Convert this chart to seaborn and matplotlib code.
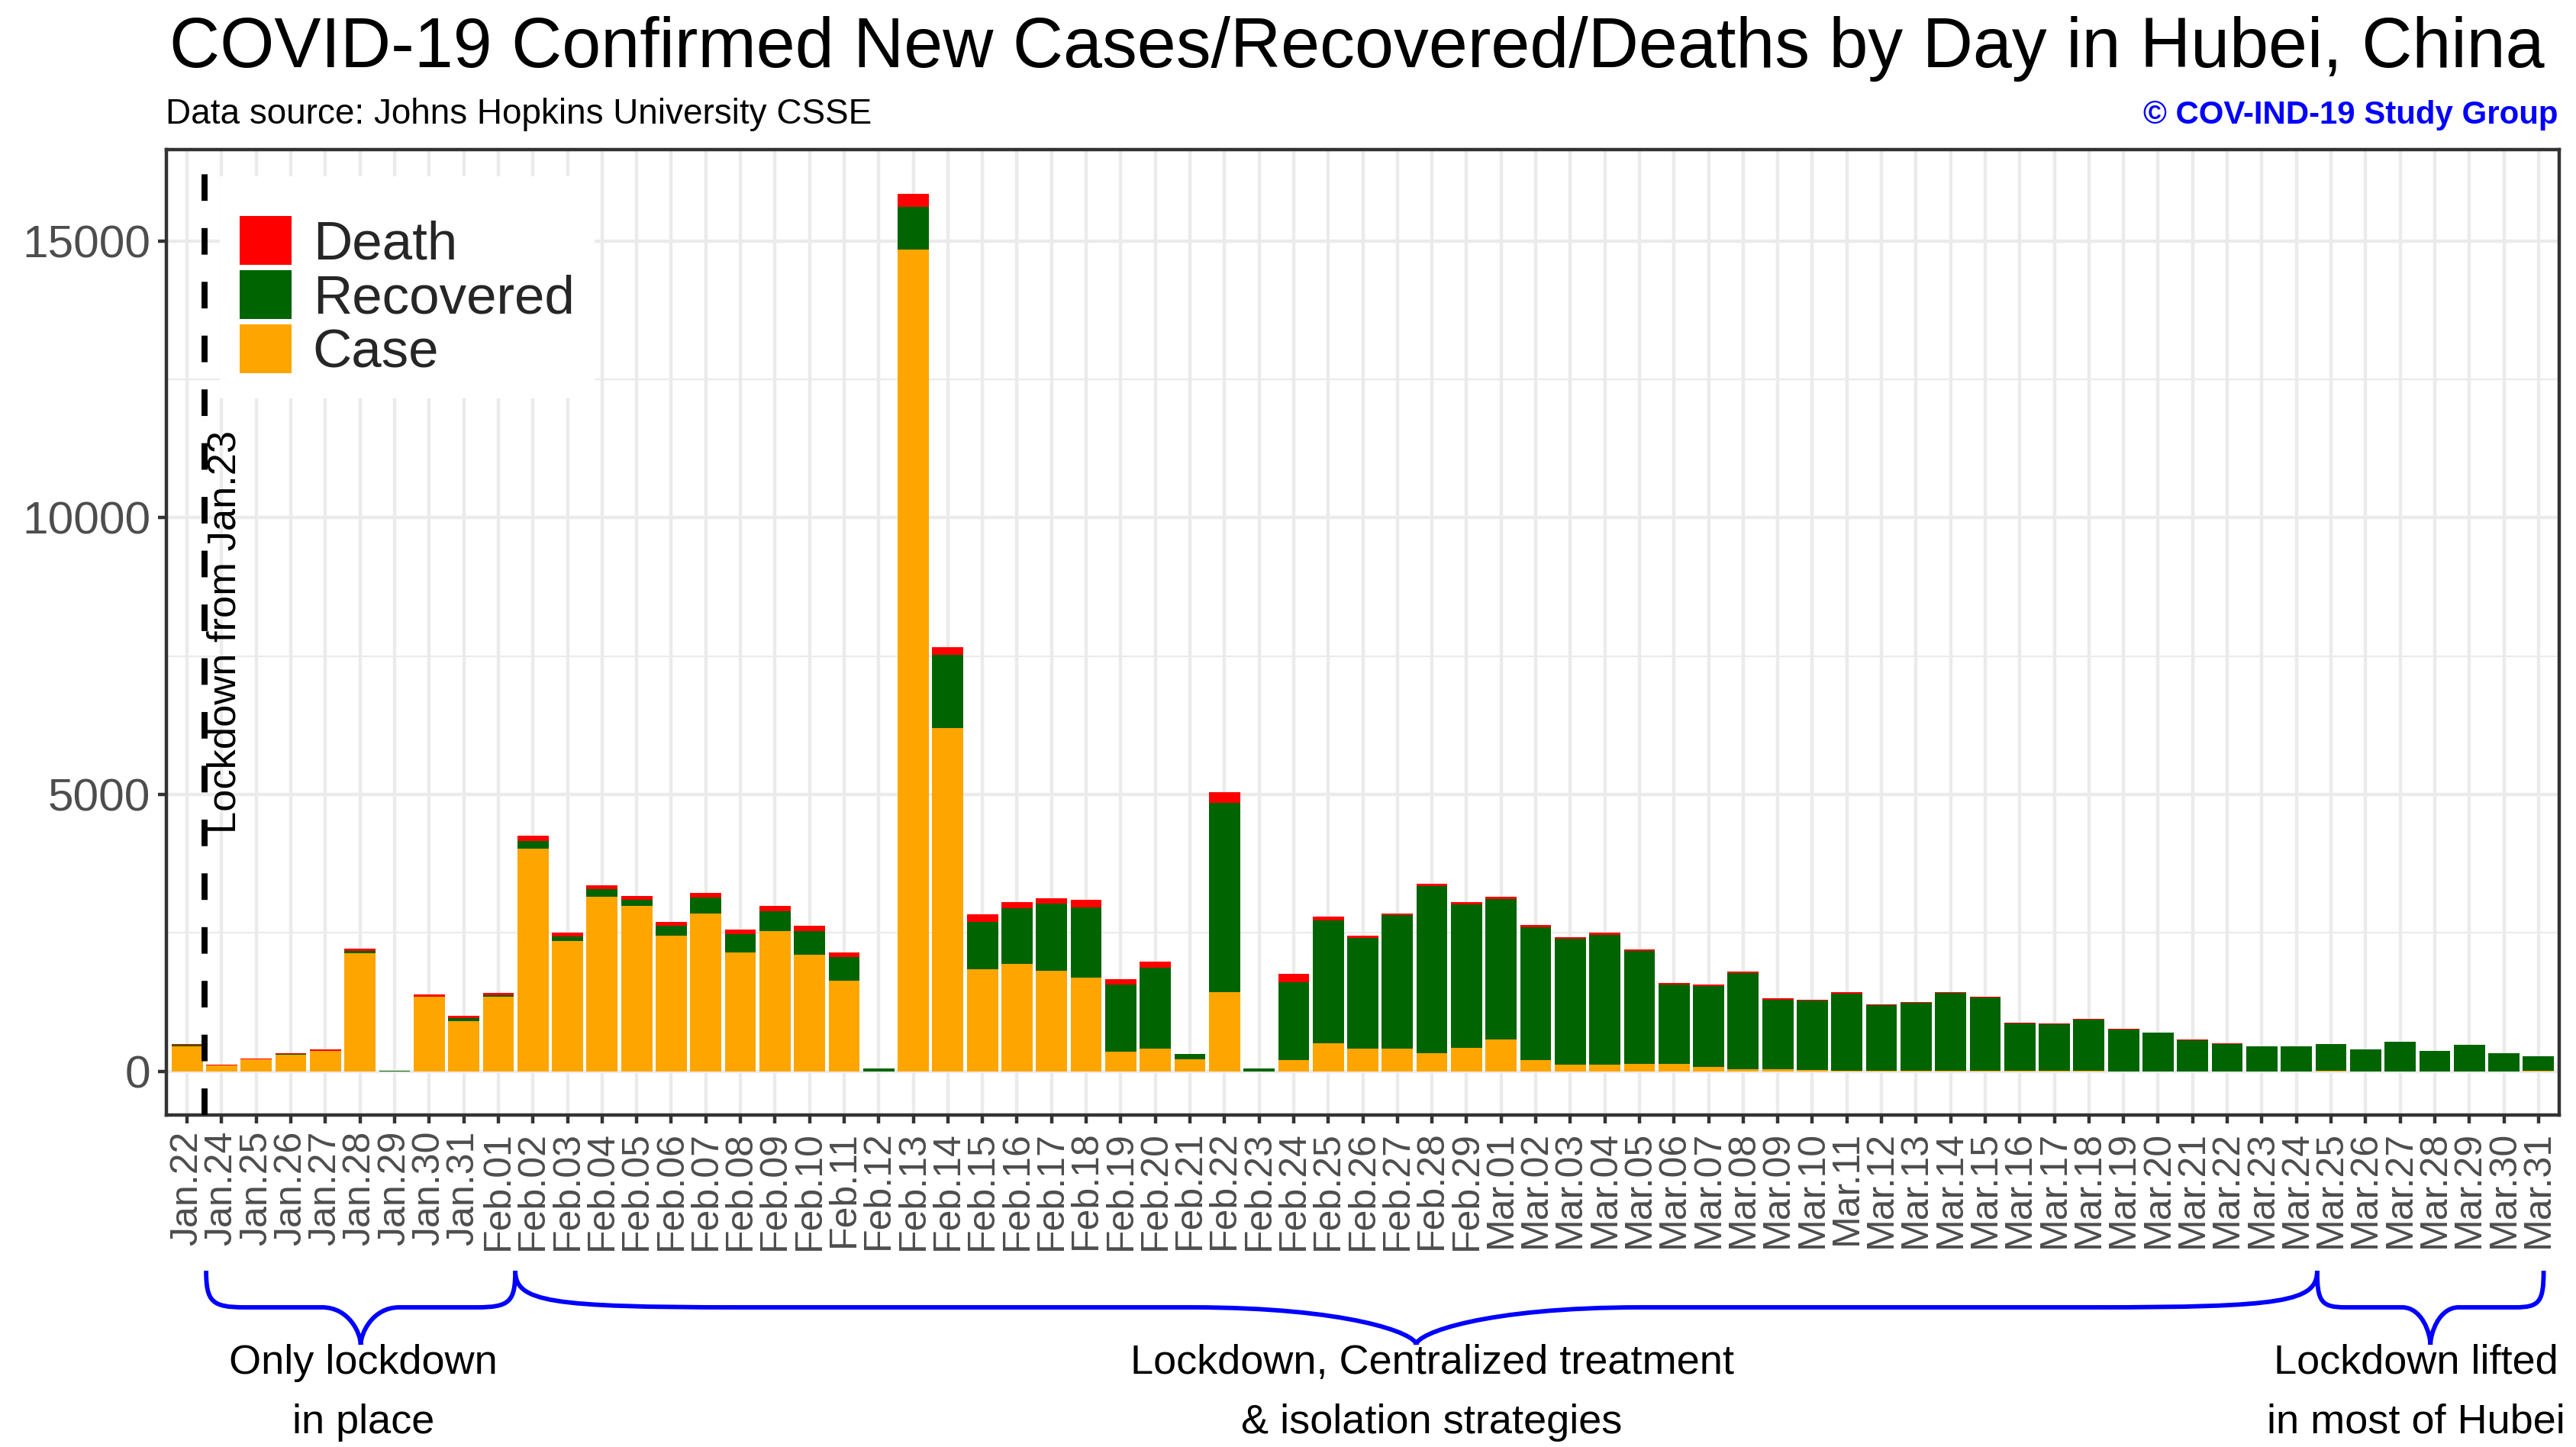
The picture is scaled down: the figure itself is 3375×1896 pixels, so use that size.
import numpy as np
import pandas as pd
import matplotlib
matplotlib.use("Agg")
import matplotlib.pyplot as plt
import seaborn as sns
from matplotlib.patches import Patch, PathPatch
from matplotlib.path import Path
from matplotlib.transforms import blended_transform_factory
from matplotlib.ticker import FixedLocator

# ---------------- data ----------------
dates = ["Jan.22", "Jan.24", "Jan.25", "Jan.26", "Jan.27", "Jan.28", "Jan.29", "Jan.30", "Jan.31",
         "Feb.01", "Feb.02", "Feb.03", "Feb.04", "Feb.05", "Feb.06", "Feb.07", "Feb.08", "Feb.09",
         "Feb.10", "Feb.11", "Feb.12", "Feb.13", "Feb.14", "Feb.15", "Feb.16", "Feb.17", "Feb.18",
         "Feb.19", "Feb.20", "Feb.21", "Feb.22", "Feb.23", "Feb.24", "Feb.25", "Feb.26", "Feb.27",
         "Feb.28", "Feb.29",
         "Mar.01", "Mar.02", "Mar.03", "Mar.04", "Mar.05", "Mar.06", "Mar.07", "Mar.08", "Mar.09",
         "Mar.10", "Mar.11", "Mar.12", "Mar.13", "Mar.14", "Mar.15", "Mar.16", "Mar.17", "Mar.18",
         "Mar.19", "Mar.20", "Mar.21", "Mar.22", "Mar.23", "Mar.24", "Mar.25", "Mar.26", "Mar.27",
         "Mar.28", "Mar.29", "Mar.30", "Mar.31"]

cases = [444, 105, 212, 297, 365, 2131, 0, 1349, 903,
         1347, 4024, 2345, 3156, 2987, 2447, 2841, 2147, 2531,
         2097, 1638, 0, 14840, 6200, 1843, 1933, 1807, 1693,
         349, 411, 220, 1422, 0, 203, 499, 401, 409,
         318, 423,
         570, 196, 114, 115, 134, 126, 74, 41, 36,
         17, 13, 8, 5, 4, 4, 1, 1, 1,
         0, 0, 0, 0, 0, 0, 1, 0, 0,
         0, 0, 0, 1]

recovered = [28, 3, 1, 10, 3, 35, 8, 2, 51,
             27, 127, 91, 136, 111, 184, 298, 324, 356,
             427, 417, 47, 773, 1315, 849, 1016, 1223, 1266,
             1209, 1451, 93, 3418, 44, 1405, 2223, 1998, 2414,
             3020, 2590,
             2543, 2398, 2274, 2349, 2035, 1441, 1467, 1735, 1253,
             1255, 1391, 1184, 1235, 1407, 1328, 854, 852, 933,
             755, 700, 564, 487, 449, 442, 487, 390, 531,
             366, 472, 319, 264]

deaths = [17, 7, 16, 12, 24, 49, 0, 37, 42,
          45, 101, 64, 65, 70, 69, 81, 81, 91,
          103, 94, 0, 242, 147, 139, 100, 93, 132,
          108, 115, 0, 202, 0, 149, 68, 52, 26,
          41, 45,
          34, 42, 32, 36, 31, 29, 28, 27, 22,
          16, 22, 10, 6, 13, 10, 14, 12, 11,
          8, 3, 6, 14, 0, 7, 3, 6, 5,
          3, 5, 4, 1]

series_names = ["Death", "Recovered", "Case"]
series_colors = {"Death": "#FF0000", "Recovered": "#006400", "Case": "#FFA500"}

title = "COVID-19 Confirmed New Cases/Recovered/Deaths by Day in Hubei, China"
subtitle = "Data source: Johns Hopkins University CSSE"
credit = "\u00a9 COV-IND-19 Study Group"
lockdown_label = "Lockdown from Jan.23"

# phases: (start, end, text centre) positions on the category axis, text lines
phases = [
    (0.55, 9.49, 5.1, ["Only lockdown", "in place"]),
    (9.49, 61.6, 36.0, ["Lockdown, Centralized treatment", "& isolation strategies"]),
    (61.6, 68.15, 64.45, ["Lockdown lifted", "in most of Hubei"]),
]

# ---------------- style ----------------
sns.set_theme(style="white")
FONT = ["Liberation Sans", "DejaVu Sans"]
plt.rcParams["font.family"] = FONT

W, H, DPI = 3375, 1896, 300
fig = plt.figure(figsize=(W / DPI, H / DPI), dpi=DPI)
fig.patch.set_facecolor("white")
ax = fig.add_axes([218 / W, 1 - 1461 / H, (3353 - 218) / W, (1461 - 196) / H])
ax.set_facecolor("white")

df = pd.DataFrame({"date": dates, "Case": cases, "Recovered": recovered, "Death": deaths})
df["cr"] = df["Case"] + df["Recovered"]
df["total"] = df["cr"] + df["Death"]

common = dict(x="date", order=dates, width=0.9, saturation=1, errorbar=None,
              linewidth=0, ax=ax, zorder=2)
sns.barplot(data=df, y="total", color=series_colors["Death"], **common)
sns.barplot(data=df, y="cr", color=series_colors["Recovered"], **common)
sns.barplot(data=df, y="Case", color=series_colors["Case"], **common)

n = len(dates)
ymax = df["total"].max()
ax.set_xlim(-0.6, n - 1 + 0.6)
ax.set_ylim(-0.05 * ymax, 1.05 * ymax)
ax.set_xlabel("")
ax.set_ylabel("")

# grid
ax.set_axisbelow(True)
ax.yaxis.set_major_locator(FixedLocator([0, 5000, 10000, 15000]))
ax.yaxis.set_minor_locator(FixedLocator([2500, 7500, 12500]))
ax.grid(which="major", axis="both", color="#EBEBEB", lw=1.07)
ax.grid(which="minor", axis="y", color="#EBEBEB", lw=0.53)

for sp in ax.spines.values():
    sp.set_visible(True)
    sp.set_color("#333333")
    sp.set_linewidth(1.07)

ax.tick_params(axis="both", which="major", length=2.75, width=1.07, color="#333333",
               pad=2.2, labelcolor="#4D4D4D", left=True, bottom=True)
ax.tick_params(axis="y", which="minor", length=0)
ax.tick_params(axis="y", labelsize=14.5)
ax.set_yticklabels(["0", "5000", "10000", "15000"])
ax.set_xticks(range(n))
ax.set_xticklabels(dates, rotation=90, fontsize=12, ha="center", va="top")

# lockdown line and label
ax.axvline(0.5, color="black", lw=1.9, linestyle=(0, (4.4, 4.5)), zorder=3)
ax.text(1.387, 7930, lockdown_label, rotation=90, rotation_mode="anchor",
        ha="center", va="baseline", fontsize=12.6, color="black", zorder=4)

# legend
handles = [Patch(facecolor=series_colors[s], edgecolor="none", label=s) for s in series_names]
leg = ax.legend(handles=handles, loc="upper left", bbox_to_anchor=(70 / 3135, 1 - 35 / 1265),
                borderaxespad=0, fontsize=17, frameon=True, fancybox=False, framealpha=1,
                facecolor="white", edgecolor="none", handlelength=0.95, handleheight=1.0,
                handletextpad=0.4, labelspacing=0.0, borderpad=0.37,
                title=" ", title_fontsize=6.5)
leg.get_frame().set_linewidth(0)
leg.set_zorder(5)

# titles
fig.text(222 / W, 1 - 88 / H, title, fontsize=22, ha="left", va="baseline", color="black")
fig.text(217 / W, 1 - 162 / H, subtitle, fontsize=11, ha="left", va="baseline", color="black")
fig.text(3351 / W, 1 - 162 / H, credit, fontsize=10.1, fontweight="bold", ha="right",
         va="baseline", color="#0000FF")

# braces below the axis
tr = blended_transform_factory(ax.transData, fig.transFigure)
y_top, y_mid, y_tip = 1 - 1665 / H, 1 - 1713 / H, 1 - 1762 / H


def brace(x0, x1):
    xm = (x0 + x1) / 2
    w = 0.25 * (xm - x0)
    a_end, a_tip = 0.85, 0.7
    verts = [
        (x0, y_top),
        (x0, y_top - a_end * (y_top - y_mid)), (x0 + (1 - a_end) * w, y_mid), (x0 + w, y_mid),
        (xm - w, y_mid),
        (xm - w + a_tip * w, y_mid), (xm, y_mid - a_tip * (y_mid - y_tip)), (xm, y_tip),
        (xm, y_mid - a_tip * (y_mid - y_tip)), (xm + w - a_tip * w, y_mid), (xm + w, y_mid),
        (x1 - w, y_mid),
        (x1 - (1 - a_end) * w, y_mid), (x1, y_top - a_end * (y_top - y_mid)), (x1, y_top),
    ]
    codes = [Path.MOVETO,
             Path.CURVE4, Path.CURVE4, Path.CURVE4,
             Path.LINETO,
             Path.CURVE4, Path.CURVE4, Path.CURVE4,
             Path.CURVE4, Path.CURVE4, Path.CURVE4,
             Path.LINETO,
             Path.CURVE4, Path.CURVE4, Path.CURVE4]
    p = PathPatch(Path(verts, codes), facecolor="none", edgecolor="#0000FF", lw=1.4,
                  transform=tr, clip_on=False)
    ax.add_artist(p)


for x0, x1, xt, lines in phases:
    brace(x0, x1)
    ax.text(xt, 1 - 1800 / H, lines[0], transform=tr, ha="center", va="baseline",
            fontsize=13.0, color="black", clip_on=False)
    ax.text(xt, 1 - 1878 / H, lines[1], transform=tr, ha="center", va="baseline",
            fontsize=13.0, color="black", clip_on=False)

fig.savefig("out.png", dpi=DPI, facecolor="white")
